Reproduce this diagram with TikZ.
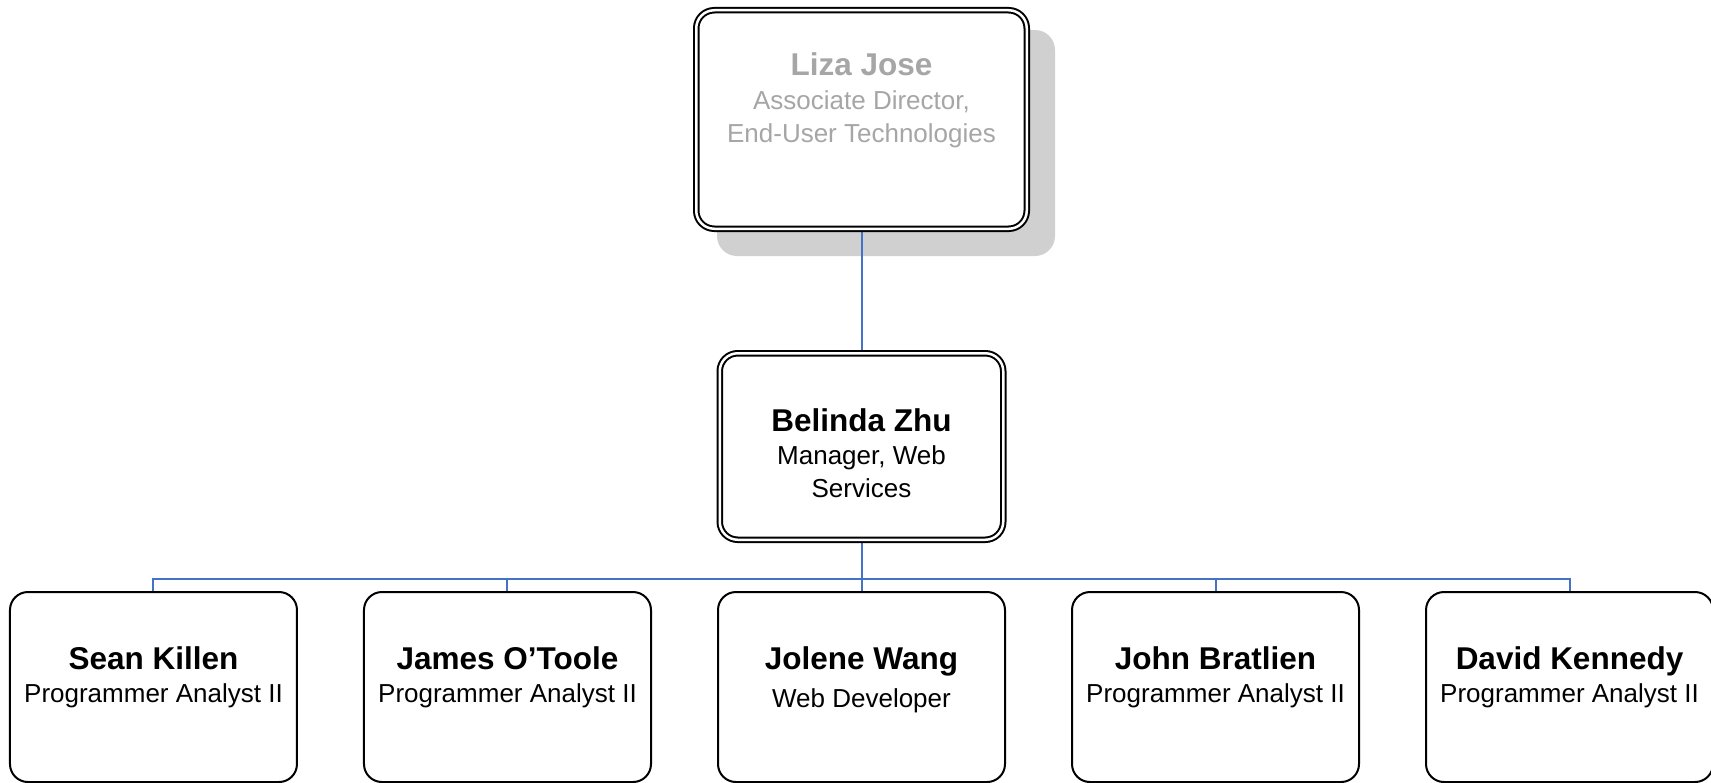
\documentclass[tikz,border=0pt]{standalone}
\usepackage{fontspec}
\setmainfont{Liberation Sans}
\usetikzlibrary{backgrounds}
\definecolor{linkblue}{RGB}{68,114,196}
\definecolor{shadowgray}{RGB}{208,208,208}
\definecolor{fadedtext}{RGB}{166,166,166}
\newcommand{\who}[2]{{\fontsize{15.75bp}{16.5bp}\selectfont\bfseries #1}\\#2}
\begin{document}
\begin{tikzpicture}[x=0.5bp, y=-0.5bp, node distance=177bp,
  person/.style={draw, line width=1bp, rounded corners=9bp, fill=white, align=center,
    inner sep=0pt, minimum width=143.5bp, minimum height=95bp,
    font=\fontsize{13bp}{16.5bp}\selectfont, text height=30bp, text depth=15bp},
  boss/.style={person, double, double distance=1.25bp},
  link/.style={draw=linkblue, line width=1bp}]
\useasboundingbox (0,0) rectangle (1711,783);
\clip (0,0) rectangle (1711,783);
\node[boss, minimum width=165.25bp, minimum height=109.25bp, text height=40bp, text depth=17.5bp, text=fadedtext] (liza) at (861.5,119.5) {\who{Liza Jose}{Associate Director,\\End-User Technologies}};
\node[boss, node distance=163.5bp, below of=liza, minimum width=141.75bp, minimum height=93.25bp, text height=60bp, text depth=9.5bp] (belinda) {\who{Belinda Zhu}{Manager, Web\\Services}};
\node[person, node distance=120.25bp, below of=belinda, font=\fontsize{13bp}{19bp}\selectfont, text depth=10bp] (jolene) {\who{Jolene Wang}{Web Developer}};
\node[person, left of=jolene] (james) {\who{James O’Toole}{Programmer Analyst II}};
\node[person, left of=james] (sean) {\who{Sean Killen}{Programmer Analyst II}};
\node[person, right of=jolene] (john) {\who{John Bratlien}{Programmer Analyst II}};
\node[person, right of=john] (david) {\who{David Kennedy}{Programmer Analyst II}};
\begin{scope}[on background layer]
\fill[shadowgray, rounded corners=10bp] (717,30) rectangle (1055,256);
\draw[link] (liza) -- (belinda);
\coordinate (bus) at (862,579);
\foreach \kid in {sean,james,jolene,john,david}
  \draw[link] (belinda.south) -- (belinda.south |- bus) -| (\kid.north);
\end{scope}
\end{tikzpicture}
\end{document}
